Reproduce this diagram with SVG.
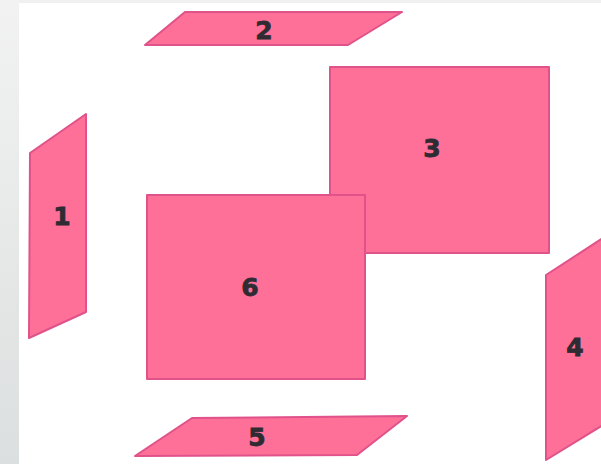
<svg xmlns="http://www.w3.org/2000/svg" width="601" height="464" viewBox="0 0 601 464">
  <defs>
    <linearGradient id="side" x1="0" y1="0" x2="0" y2="1">
      <stop offset="0" stop-color="#f2f2f2"/>
      <stop offset="1" stop-color="#dcdfdf"/>
    </linearGradient>
    <style>
      .face { fill: #fe7097; stroke: #e0528a; stroke-width: 2; stroke-linejoin: round; }
      .lbl { font-family: "DejaVu Sans", "Liberation Sans", sans-serif; font-weight: bold; font-size: 25px; fill: #2e2b33; stroke: #2e2b33; stroke-width: 0.8; text-anchor: middle; dominant-baseline: central; }
    </style>
  </defs>
  <rect x="0" y="0" width="601" height="464" fill="#ffffff"/>
  <rect x="0" y="0" width="601" height="3" fill="#f0f0f0"/>
  <rect x="0" y="0" width="19" height="464" fill="url(#side)"/>

  <g id="face2">
    <polygon class="face" points="185,12 402,12 348,45 145,45"/>
    <text class="lbl" x="264" y="30">2</text>
  </g>
  <g id="face3">
    <rect class="face" x="330" y="67" width="219" height="186"/>
    <text class="lbl" x="432" y="148">3</text>
  </g>
  <g id="face6">
    <rect class="face" x="147" y="195" width="218" height="184"/>
    <text class="lbl" x="250" y="287">6</text>
  </g>
  <g id="face1">
    <polygon class="face" points="30,153 86,114 86,312 29,338"/>
    <text class="lbl" x="62" y="216">1</text>
  </g>
  <g id="face4">
    <polygon class="face" points="546,275 603,238 603,425 546,460"/>
    <text class="lbl" x="575" y="347">4</text>
  </g>
  <g id="face5">
    <polygon class="face" points="192,418 407,416 357,455 135,456"/>
    <text class="lbl" x="257" y="437">5</text>
  </g>
  <g id="connectors"/>
</svg>
